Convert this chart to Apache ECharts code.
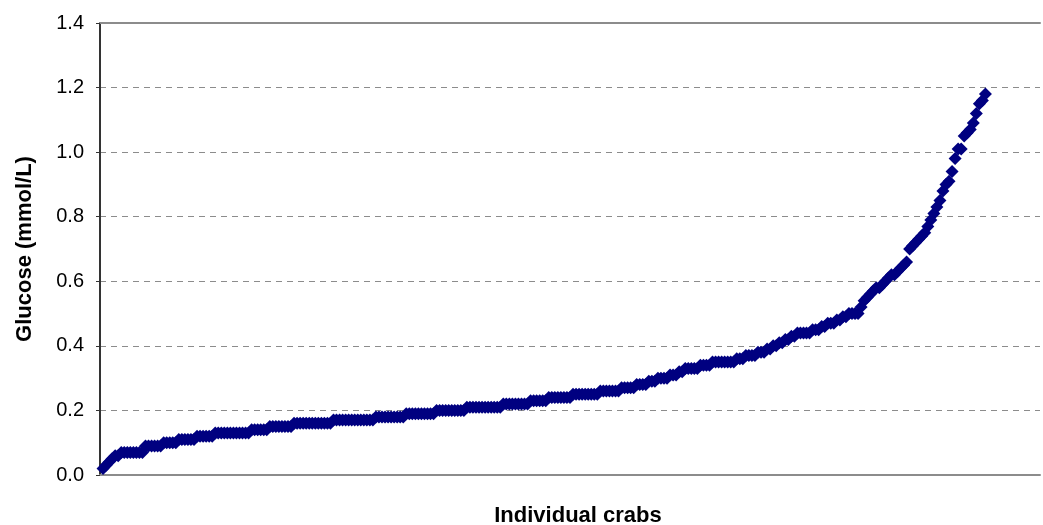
<!DOCTYPE html>
<html>
<head>
<meta charset="utf-8">
<script src="https://cdn.jsdelivr.net/npm/echarts@6/dist/echarts.min.js"></script>
<style>
  html, body { margin: 0; padding: 0; background: #fff; }
  #chart { width: 1043px; height: 525px; }
</style>
</head>
<body>
<div id="chart"></div>
<script>
// glucose per crab, sorted ascending (mmol/L)
const glucose = [
  0.02, 0.03, 0.04, 0.05, 0.06, 0.06,
  0.07, 0.07, 0.07, 0.07, 0.07, 0.07, 0.07, 0.07,
  0.09, 0.09, 0.09, 0.09, 0.09, 0.09, 0.10, 0.10, 0.10, 0.10, 0.10,
  0.11, 0.11, 0.11, 0.11, 0.11, 0.11,
  0.12, 0.12, 0.12, 0.12, 0.12, 0.12, 0.13, 0.13, 0.13, 0.13, 0.13, 0.13, 0.13,
  0.13, 0.13, 0.13, 0.13, 0.13, 0.14, 0.14, 0.14, 0.14, 0.14, 0.14,
  0.15, 0.15, 0.15, 0.15, 0.15, 0.15, 0.15, 0.15, 0.16, 0.16, 0.16, 0.16, 0.16, 0.16, 0.16, 0.16,
  0.16, 0.16, 0.16, 0.16, 0.16, 0.17, 0.17, 0.17, 0.17, 0.17, 0.17, 0.17, 0.17, 0.17, 0.17, 0.17, 0.17, 0.17, 0.17,
  0.18, 0.18, 0.18, 0.18, 0.18, 0.18, 0.18, 0.18, 0.18, 0.18, 0.19, 0.19, 0.19, 0.19, 0.19,
  0.19, 0.19, 0.19, 0.19, 0.19, 0.20, 0.20, 0.20, 0.20, 0.20, 0.20, 0.20, 0.20, 0.20, 0.20, 0.21, 0.21, 0.21, 0.21, 0.21, 0.21, 0.21,
  0.21, 0.21, 0.21, 0.21, 0.21, 0.22, 0.22, 0.22, 0.22, 0.22, 0.22, 0.22, 0.22, 0.22,
  0.23, 0.23, 0.23, 0.23, 0.23, 0.23, 0.24, 0.24, 0.24, 0.24, 0.24, 0.24, 0.24, 0.24,
  0.25, 0.25, 0.25, 0.25, 0.25, 0.25, 0.25, 0.25, 0.25, 0.26, 0.26, 0.26, 0.26,
  0.26, 0.26, 0.26, 0.27, 0.27, 0.27, 0.27, 0.27, 0.28, 0.28, 0.28, 0.28, 0.29, 0.29, 0.29,
  0.30, 0.30, 0.30, 0.30, 0.31, 0.31, 0.31, 0.32, 0.32, 0.33, 0.33,
  0.33, 0.33, 0.33, 0.34, 0.34, 0.34, 0.34, 0.35, 0.35, 0.35, 0.35, 0.35, 0.35, 0.35, 0.35,
  0.36, 0.36, 0.36, 0.37, 0.37, 0.37, 0.37, 0.38, 0.38, 0.38,
  0.39, 0.39, 0.40, 0.40, 0.41, 0.41, 0.42, 0.42, 0.43, 0.43,
  0.44, 0.44, 0.44, 0.44, 0.44, 0.45, 0.45, 0.45, 0.46, 0.46,
  0.47, 0.47, 0.47, 0.48, 0.48, 0.49, 0.49, 0.50, 0.50, 0.50, 0.50,
  0.52, 0.54, 0.55, 0.56, 0.57, 0.58, 0.58, 0.59, 0.60,
  0.61, 0.62, 0.62, 0.63, 0.64, 0.65, 0.66,
  0.70, 0.71, 0.72, 0.73, 0.74, 0.75, 0.77,
  0.79, 0.81, 0.83, 0.85, 0.88, 0.90, 0.91,
  0.94, 0.98, 1.01, 1.01, 1.05, 1.06,
  1.07, 1.09, 1.12, 1.15, 1.16, 1.18
]
const yTicks = [0, 0.2, 0.4, 0.6, 0.8, 1.0, 1.2, 1.4]
const xTitle = 'Individual crabs'
const yTitle = 'Glucose (mmol/L)'

const chart = echarts.init(document.getElementById('chart'), null, { renderer: 'canvas' })
const font = 'Liberation Sans, Arial, sans-serif'

chart.setOption({
  animation: false,
  backgroundColor: '#fff',
  textStyle: { fontFamily: font },
  grid: { left: 100, right: 3, top: 23, bottom: 50, outerBoundsMode: 'none', containLabel: false },
  xAxis: [
    {
      type: 'value',
      min: 0,
      max: 310,
      name: xTitle,
      nameLocation: 'middle',
      nameGap: 30,
      nameTextStyle: { fontSize: 22, fontWeight: 'bold', color: '#000', fontFamily: font, padding: [0, 0, 0, 16] },
      axisLine: { show: true, lineStyle: { color: '#8c8c8c', width: 2 } },
      axisTick: { show: false },
      axisLabel: { show: false },
      splitLine: { show: false },
    },
    {
      type: 'value',
      position: 'top',
      min: 0,
      max: 310,
      axisLine: { show: true, lineStyle: { color: '#8c8c8c', width: 2 } },
      axisTick: { show: false },
      axisLabel: { show: false },
      splitLine: { show: false },
    },
  ],
  yAxis: {
    type: 'value',
    min: yTicks[0],
    max: yTicks[yTicks.length - 1],
    interval: 0.2,
    name: yTitle,
    nameLocation: 'middle',
    nameGap: 64,
    nameTextStyle: { fontSize: 22, fontWeight: 'bold', color: '#000', fontFamily: font },
    axisLine: { show: true, lineStyle: { color: '#333', width: 2 } },
    axisTick: { show: true, length: 4, lineStyle: { color: '#333', width: 1 } },
    axisLabel: {
      color: '#000',
      fontSize: 20,
      fontFamily: font,
      margin: 16,
      formatter: (v) => v.toFixed(1),
    },
    splitLine: { show: true, lineStyle: { color: '#8c8c8c', width: 1, type: [6, 5] } },
  },
  series: [
    {
      type: 'scatter',
      symbol: 'diamond',
      symbolSize: 13,
      itemStyle: { color: '#000080', opacity: 1 },
      data: glucose.map((v, i) => [i + 1, v]),
    },
  ],
})
</script>
</body>
</html>
